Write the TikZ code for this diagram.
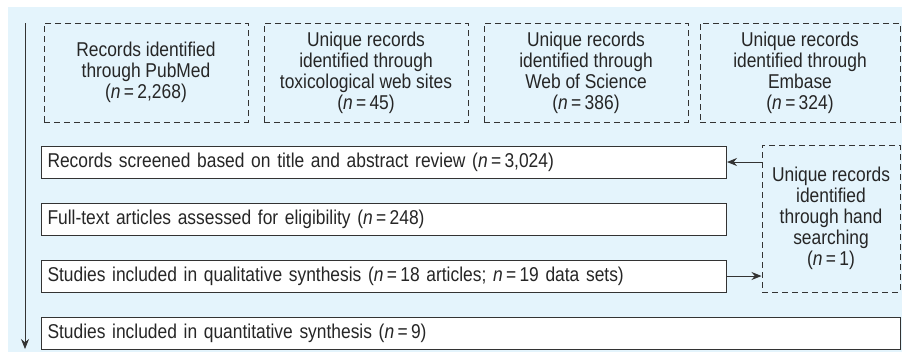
\documentclass[tikz,border=0pt]{standalone}
\usepackage{fontspec}
\setmainfont{Liberation Sans}[FakeStretch=0.87]
\usetikzlibrary{arrows.meta}

\definecolor{bgblue}{HTML}{E4F4FC}
\definecolor{linegray}{HTML}{333333}

\tikzset{
    srcbox/.style={draw=linegray, line width=1pt, dash pattern=on 6pt off 4pt,
        minimum width=204pt, minimum height=99pt, align=center, inner sep=2pt},
    rowbox/.style={draw=linegray, line width=1pt, fill=white, minimum height=32pt,
        inner xsep=6pt, align=left, anchor=west},
    flow/.style={-{Stealth[length=10pt,width=8pt]}, draw=linegray, line width=1pt}
}

\newcommand{\nn}{\textit{n}\,=\,}
\newcommand{\diagfont}{\fontsize{20}{21}\selectfont\spaceskip=0.24em plus 0.1em minus 0.05em\relax}

\begin{document}
\begin{tikzpicture}[x=1pt, y=-1pt, text=black!85, font=\diagfont]
    \useasboundingbox (0,0) rectangle (902,354);
    \fill[bgblue] (8,7) rectangle (902,352);

    % search sources
    \node[srcbox] (pubmed) at (146,72.5) {Records identified\\through PubMed\\(\nn 2,268)};
    \node[srcbox] (toxweb) at (366,72.5) {Unique records\\identified through\\toxicological web sites\\(\nn 45)};
    \node[srcbox] (wos) at (586,72.5) {Unique records\\identified through\\Web of Science\\(\nn 386)};
    \node[srcbox, minimum width=200pt] (embase) at (800,72.5) {Unique records\\identified through\\Embase\\(\nn 324)};

    % screening steps
    \node[rowbox, text width=673pt] (screen) at (41,162) {Records screened based on title and abstract review (\nn 3,024)};
    \node[rowbox, text width=673pt] (fulltext) at (41,219) {Full-text articles assessed for eligibility (\nn 248)};
    \node[rowbox, text width=673pt] (quali) at (41,276) {Studies included in qualitative synthesis (\nn 18 articles; \nn 19 data sets)};
    \node[rowbox, text width=847pt] (quanti) at (41,333) {Studies included in quantitative synthesis (\nn 9)};

    % hand searching
    \node[srcbox, minimum width=138pt, minimum height=147pt] (hand) at (831,218.5) {Unique records\\identified\\through hand\\searching\\(\nn 1)};

    \draw[flow] (hand.west |- screen) -- (screen.east);
    \draw[flow] (quali.east) -- (hand.west |- quali);

    % time line
    \coordinate (tltop) at (25,23);
    \coordinate (tlbot) at (25,349);
    \draw[flow] (tltop) -- (tlbot);
\end{tikzpicture}
\end{document}
